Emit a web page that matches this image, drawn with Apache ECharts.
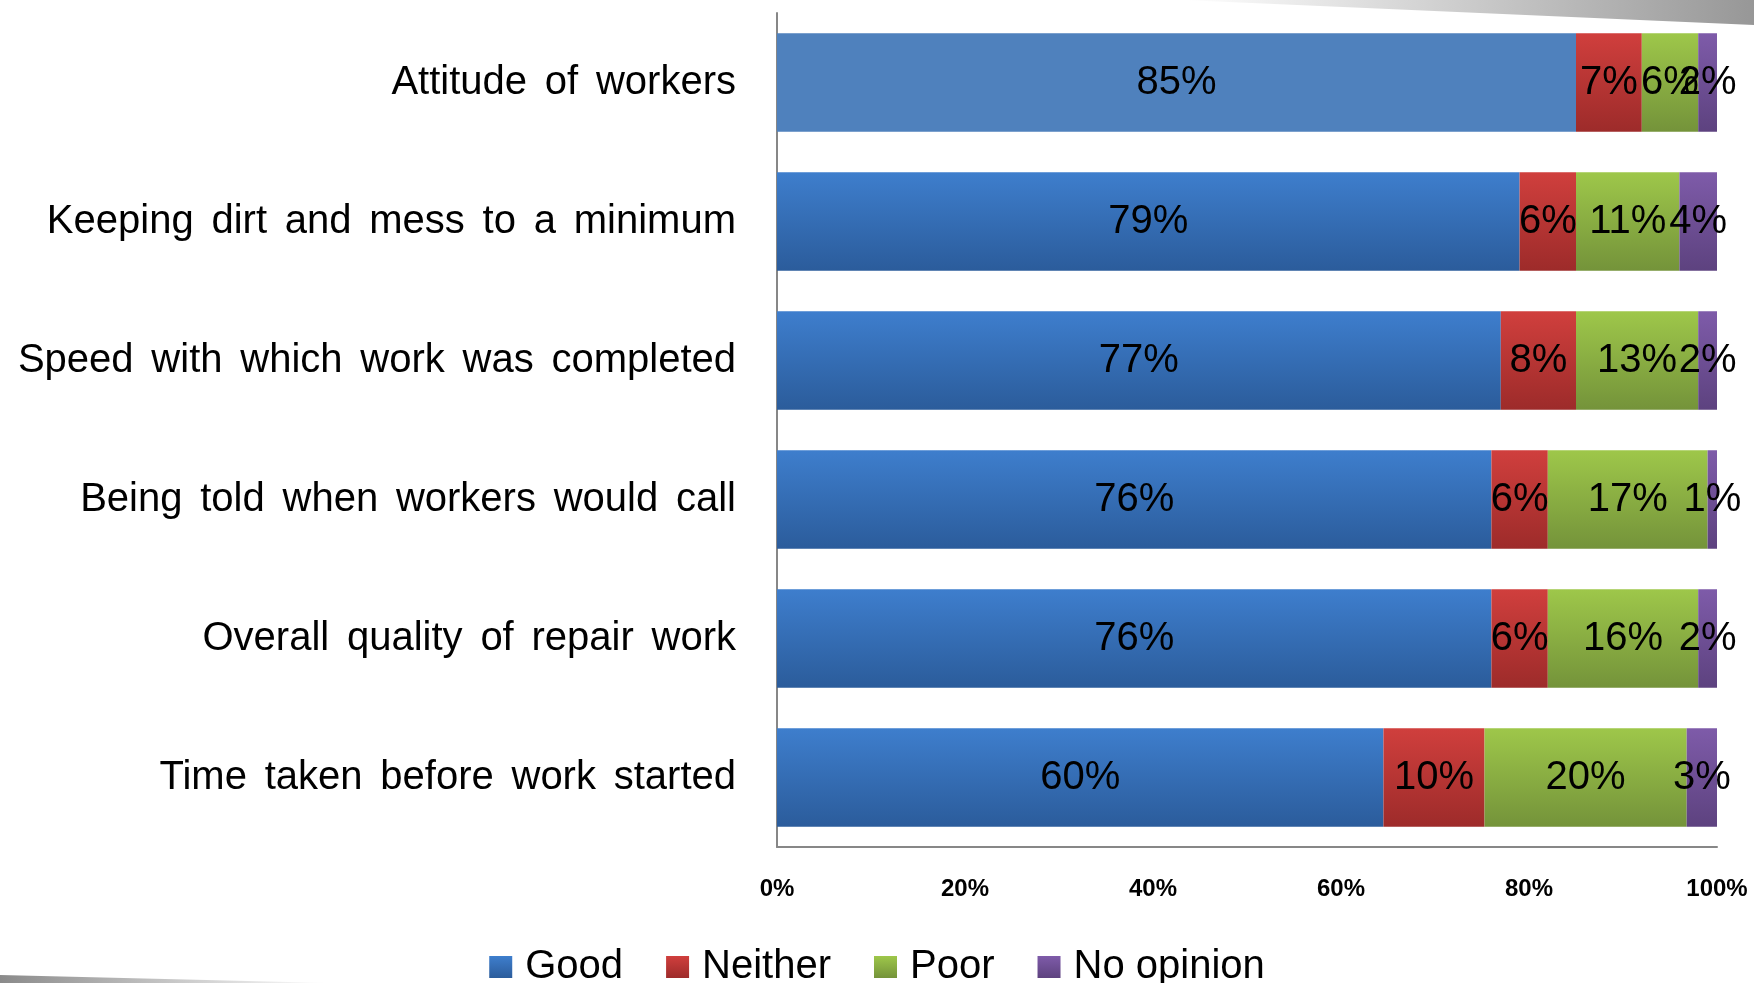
<!DOCTYPE html>
<html>
<head>
<meta charset="utf-8">
<script src="https://cdn.jsdelivr.net/npm/echarts@6/dist/echarts.min.js"></script>
<style>
  html, body { margin: 0; padding: 0; background: #ffffff; }
  #chart { width: 1754px; height: 983px; }
</style>
</head>
<body>
<div id="chart"></div>
<script>
// Survey aspects, top to bottom
const categories = [
  'Attitude of workers',
  'Keeping dirt and mess to a minimum',
  'Speed with which work was completed',
  'Being told when workers would call',
  'Overall quality of repair work',
  'Time taken before work started'
];

// Response shares (%) per aspect
const good      = [85, 79, 77, 76, 76, 60];
const neither   = [7, 6, 8, 6, 6, 10];
const poor      = [6, 11, 13, 17, 16, 20];
const noOpinion = [2, 4, 2, 1, 2, 3];

const seriesNames = ['Good', 'Neither', 'Poor', 'No opinion'];
const axisTicks = [0, 20, 40, 60, 80, 100];

const FONT = "'Liberation Sans', Arial, sans-serif";

// Vertical gradients for each response band
function grad(top, bottom) {
  return new echarts.graphic.LinearGradient(0, 0, 0, 1, [
    { offset: 0, color: top },
    { offset: 1, color: bottom }
  ]);
}
const fills = [
  grad('#3e7ecd', '#2b5c9b'),
  grad('#d03f3d', '#9d2b2a'),
  grad('#9ec74a', '#74933a'),
  grad('#7e5ba9', '#5d427f')
];

// 100% stacked: each row is scaled to its own total
const groups = [good, neither, poor, noOpinion];
const totals = categories.map((_, i) => groups.reduce((s, g) => s + g[i], 0));

const series = groups.map((vals, si) => ({
  name: seriesNames[si],
  type: 'bar',
  stack: 'share',
  barCategoryGap: '29%',
  itemStyle: { color: fills[si] },
  emphasis: { disabled: true },
  label: {
    show: true,
    position: 'inside',
    color: '#000',
    fontFamily: FONT,
    fontSize: 40,
    textBorderWidth: 0,
    formatter: p => p.data.raw + '%'
  },
  data: vals.map((v, i) => {
    const item = { value: v / totals[i] * 100, raw: v };
    // the first row's "Good" band is a flat fill
    if (si === 0 && i === 0) item.itemStyle = { color: '#4f81bd' };
    return item;
  })
}));

const chart = echarts.init(document.getElementById('chart'), null, { renderer: 'canvas' });
chart.setOption({
  animation: false,
  backgroundColor: '#ffffff',
  grid: { left: 777, right: 37, top: 13, bottom: 136, containLabel: false },
  xAxis: {
    type: 'value',
    min: axisTicks[0],
    max: axisTicks[axisTicks.length - 1],
    interval: axisTicks[1] - axisTicks[0],
    axisLine: { show: true, lineStyle: { color: '#878787', width: 2 } },
    axisTick: { show: false },
    splitLine: { show: false },
    axisLabel: {
      margin: 30,
      color: '#000',
      fontFamily: FONT,
      fontWeight: 'bold',
      fontSize: 24,
      formatter: '{value}%'
    }
  },
  yAxis: {
    type: 'category',
    inverse: true,
    data: categories,
    axisLine: { show: true, lineStyle: { color: '#878787', width: 2 } },
    axisTick: { show: false },
    axisLabel: {
      margin: 41,
      color: '#000',
      fontFamily: FONT,
      fontSize: 40,
      // slightly wider word spacing
      formatter: v => v.replace(/ /g, ' \u2006')
    }
  },
  legend: {
    data: seriesNames,
    left: 'center',
    top: 942,
    itemWidth: 23,
    itemHeight: 22,
    itemGap: 43,
    icon: 'rect',
    selectedMode: false,
    textStyle: {
      color: '#000',
      fontFamily: FONT,
      fontSize: 40,
      padding: [0, 0, 0, 8]
    }
  },
  graphic: [
    {
      type: 'polygon',
      silent: true,
      shape: { points: [[1183, 0], [1754, 0], [1754, 25]] },
      style: {
        fill: new echarts.graphic.LinearGradient(0, 0, 1, 0, [
          { offset: 0, color: '#ffffff' },
          { offset: 1, color: '#979797' }
        ])
      }
    },
    {
      type: 'polygon',
      silent: true,
      shape: { points: [[0, 975], [330, 983], [0, 983]] },
      style: {
        fill: new echarts.graphic.LinearGradient(0, 0, 1, 0, [
          { offset: 0, color: '#8a8a8a' },
          { offset: 1, color: '#ffffff' }
        ])
      }
    }
  ],
  series: series
});
</script>
</body>
</html>
